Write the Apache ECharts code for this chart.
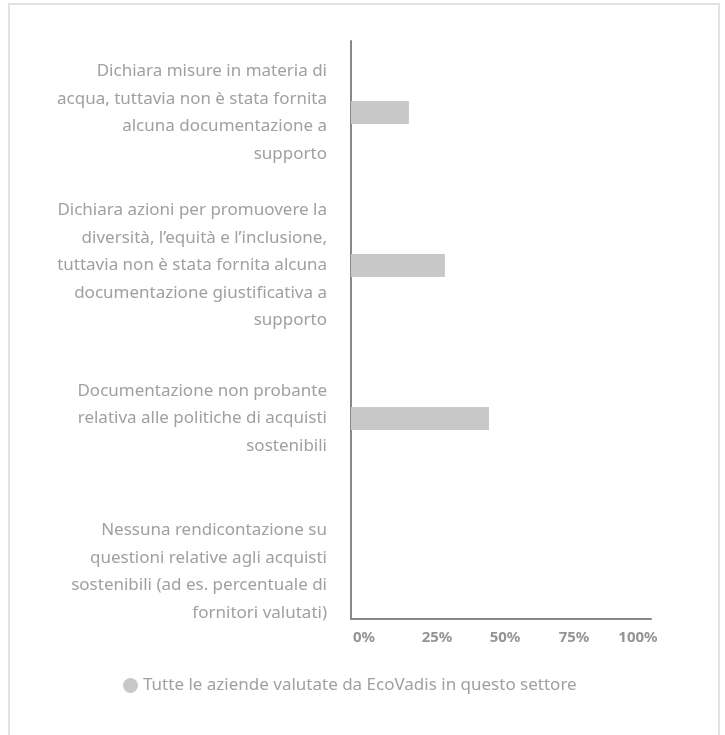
<!DOCTYPE html>
<html>
<head>
<meta charset="utf-8">
<script src="https://cdn.jsdelivr.net/npm/echarts@6/dist/echarts.min.js"></script>
<style>
html,body{margin:0;padding:0;background:#fff;}
#chart{width:725px;height:735px;}
</style>
</head>
<body>
<div id="chart"></div>
<script>
const categories = [
  "Dichiara misure in materia di\nacqua, tuttavia non è stata fornita\nalcuna documentazione a\nsupporto",
  "Dichiara azioni per promuovere la\ndiversità, l’equità e l’inclusione,\ntuttavia non è stata fornita alcuna\ndocumentazione giustificativa a\nsupporto",
  "Documentazione non probante\nrelativa alle politiche di acquisti\nsostenibili",
  "Nessuna rendicontazione su\nquestioni relative agli acquisti\nsostenibili (ad es. percentuale di\nfornitori valutati)"
];
const seriesName = "Tutte le aziende valutate da EcoVadis in questo settore";
const values = [19.3, 31.3, 46, 0];
const xTicks = [0, 25, 50, 75, 100];

const chart = echarts.init(document.getElementById('chart'));
const font = "'Noto Sans', 'Open Sans', sans-serif";
const tickStyle = {color: '#949494', fontSize: 15, fontWeight: 'bold', fontFamily: font};
const rich = {
  t0: Object.assign({padding: [0, 0, 0, 26]}, tickStyle),
  t25: Object.assign({padding: [0, 0, 0, 22]}, tickStyle),
  t50: Object.assign({padding: [0, 0, 0, 8]}, tickStyle),
  t75: Object.assign({padding: [0, 4, 0, 0]}, tickStyle),
  t100: Object.assign({padding: [0, 26, 0, 0]}, tickStyle)
};
chart.setOption({
  animation: false,
  backgroundColor: '#fff',
  graphic: [{
    type: 'rect',
    shape: {x: 9, y: 4, width: 710, height: 760},
    style: {fill: 'none', stroke: '#e2e2e2', lineWidth: 2},
    silent: true
  }],
  legend: {
    data: [{name: seriesName, icon: 'circle'}],
    left: 118,
    top: 672,
    itemWidth: 15,
    itemHeight: 15,
    itemGap: 8,
    textStyle: {color: '#a0a0a0', fontSize: 17, fontFamily: font}
  },
  grid: [
    {left: 351, width: 300, top: 36, height: 612, containLabel: false},
    {left: 351, width: 300, top: 41, height: 578, containLabel: false}
  ],
  xAxis: [
    {gridIndex: 0, type: 'value', min: 0, max: 100, show: false},
    {
      gridIndex: 1, type: 'value', min: 0, max: 100, interval: 25,
      axisLine: {show: true, lineStyle: {color: '#888', width: 2}},
      axisTick: {show: false},
      splitLine: {show: false},
      axisLabel: {
        color: '#949494', fontSize: 15, fontWeight: 'bold', fontFamily: font, margin: 11,
        align: 'center',
        formatter: v => xTicks.includes(v) ? '{t' + v + '|' + v + '%}' : '',
        rich: rich
      }
    }
  ],
  yAxis: [
    {
      gridIndex: 0, type: 'category', inverse: true, data: categories,
      axisLine: {show: false}, axisTick: {show: false}, splitLine: {show: false},
      axisLabel: {
        color: '#a0a0a0', fontSize: 17, lineHeight: 27.5, fontFamily: font,
        margin: 24, align: 'right', interval: 0
      }
    },
    {
      gridIndex: 1, type: 'value', min: 0, max: 1,
      axisLine: {show: true, lineStyle: {color: '#888', width: 2}},
      axisTick: {show: false}, axisLabel: {show: false}, splitLine: {show: false}
    }
  ],
  series: [{
    name: seriesName,
    type: 'bar',
    xAxisIndex: 0,
    yAxisIndex: 0,
    data: values,
    barWidth: 23,
    itemStyle: {color: '#c8c8c8'}
  }]
});
</script>
</body>
</html>
